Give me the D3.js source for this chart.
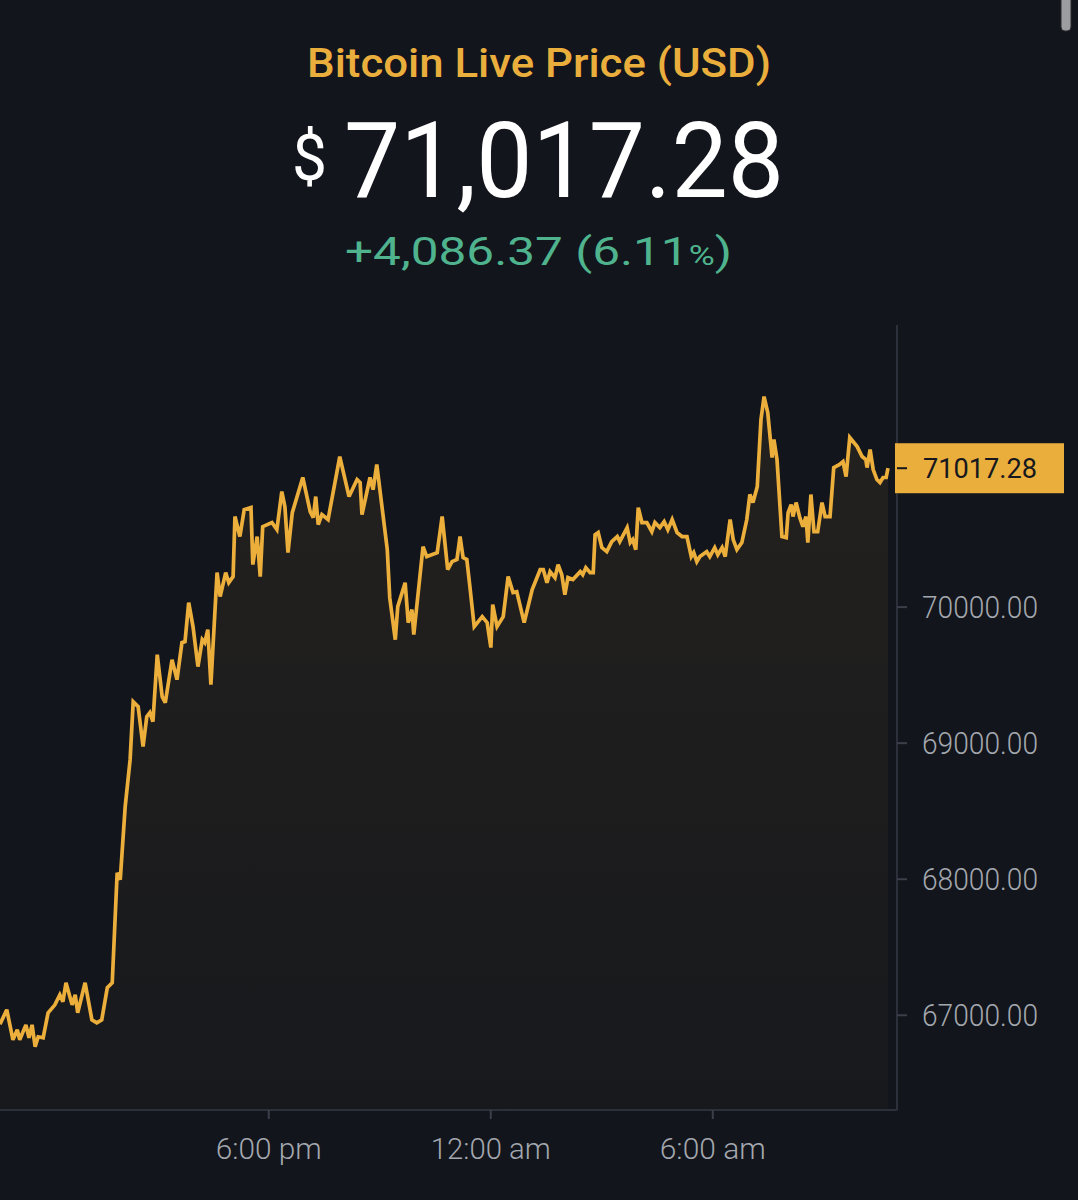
<!DOCTYPE html>
<html><head><meta charset="utf-8">
<script src="https://cdn.jsdelivr.net/npm/d3@7"></script>
<style>
html,body{margin:0;padding:0;background:#12151C;}
svg{display:block;}
</style></head><body>
<svg id="chart" width="1078" height="1200"></svg>
<script>
// ---------------- data ----------------
const titleText = "Bitcoin Live Price (USD)";
const currentPrice = 71017.28;
const changeAbs = 4086.37;
const changePct = 6.11;
const startTime = "2024-03-12T10:45:00";
const minutesFromStart = [0,11,21,28,32,42,47,52,57,62,70,78,89,97,102,107,117,122,126,138,149,157,165,174,182,190,195,203,211,216,224,232,238,243,248,255,263,268,279,287,295,300,306,313,321,328,332,337,342,352,357,366,371,378,381,389,396,407,410,417,422,426,441,449,457,462,467,474,491,503,508,512,516,522,532,551,566,579,584,587,600,605,611,619,628,632,641,645,657,662,668,671,686,692,709,717,726,733,741,746,751,757,762,769,782,790,796,799,806,816,824,832,838,850,863,876,881,887,892,900,905,911,916,921,929,941,945,950,957,962,965,970,976,984,992,1001,1005,1017,1022,1026,1031,1035,1041,1049,1057,1062,1070,1077,1083,1090,1098,1106,1114,1121,1125,1130,1135,1146,1151,1159,1164,1171,1176,1184,1189,1195,1203,1211,1216,1221,1228,1234,1239,1245,1252,1255,1260,1268,1275,1278,1283,1286,1291,1297,1302,1307,1310,1315,1320,1326,1333,1338,1346,1352,1361,1367,1372,1378,1390,1398,1404,1406,1411,1416,1422,1427,1432,1437,1440];
const prices = [66931,67037,66816,66890,66816,66926,66831,66926,66765,66838,66831,67015,67073,67147,67096,67235,67073,67147,67015,67235,66963,66941,66963,67199,67235,68044,67993,68529,68875,69301,69265,68971,69191,69221,69154,69647,69338,69294,69610,69463,69735,69743,70029,69853,69559,69757,69735,69831,69426,70250,70074,70250,70176,70221,70662,70515,70713,70728,70309,70515,70221,70588,70618,70566,70846,70735,70397,70691,70949,70699,70654,70809,70603,70676,70640,71103,70809,70934,70912,70676,70949,70860,71044,70750,70419,70066,69757,70000,70176,69882,69978,69794,70441,70368,70397,70662,70272,70331,70346,70515,70360,70346,70147,69853,69926,69882,69699,70015,69853,69926,70221,70103,70110,69882,70125,70272,70272,70176,70257,70213,70309,70235,70088,70213,70199,70257,70235,70287,70250,70250,70529,70544,70434,70404,70478,70515,70478,70581,70471,70493,70419,70728,70618,70618,70551,70618,70581,70625,70566,70640,70544,70515,70515,70368,70397,70331,70368,70404,70368,70434,70382,70434,70368,70640,70493,70419,70471,70640,70824,70765,70882,71375,71544,71426,71096,71228,71081,70515,70507,70691,70750,70662,70765,70654,70588,70662,70471,70824,70551,70551,70765,70662,70662,71022,71044,71066,70956,71243,71176,71103,71081,71022,71154,71007,70934,70912,70949,70949,71017.28];
const yTickValues = [67000, 68000, 69000, 70000];
const xTickTimes = ["2024-03-12T18:00:00", "2024-03-13T00:00:00", "2024-03-13T06:00:00"];
const xTickLabels = ["6:00 pm", "12:00 am", "6:00 am"];
const yDomain = [66300, 72070];

// ---------------- layout ----------------
const W = 1078, H = 1200;
const plot = {left: 0, right: 888, axisX: 897, top: 325, bottom: 1110};
const FONT = "Roboto, 'Noto Sans', 'DejaVu Sans', sans-serif";
const ORANGE = "#EDAF3B";

const svg = d3.select("#chart");
svg.append("rect").attr("width", W).attr("height", H).attr("fill", "#12151C");

const t0 = new Date(startTime).getTime();
const data = minutesFromStart.map((m, i) => ({t: new Date(t0 + m * 60000), v: prices[i]}));

const x = d3.scaleTime()
  .domain([data[0].t, data[data.length - 1].t])
  .range([plot.left, plot.right]);
const y = d3.scaleLinear().domain(yDomain).range([plot.bottom, plot.top]);

// gradient
const defs = svg.append("defs");
const grad = defs.append("linearGradient").attr("id", "areaGrad")
  .attr("x1", 0).attr("y1", 0).attr("x2", 0).attr("y2", 1);
grad.append("stop").attr("offset", "0%").attr("stop-color", ORANGE).attr("stop-opacity", 0.08);
grad.append("stop").attr("offset", "100%").attr("stop-color", ORANGE).attr("stop-opacity", 0.025);

const area = d3.area().x(d => x(d.t)).y0(plot.bottom).y1(d => y(d.v));
const line = d3.line().x(d => x(d.t)).y(d => y(d.v));

svg.append("path").datum(data).attr("d", area).attr("fill", "url(#areaGrad)");
svg.append("path").datum(data).attr("d", line)
  .attr("fill", "none").attr("stroke", ORANGE).attr("stroke-width", 3.7)
  .attr("stroke-linejoin", "miter").attr("stroke-miterlimit", 3);

// axis lines
svg.append("line").attr("x1", plot.left).attr("x2", plot.axisX)
  .attr("y1", plot.bottom).attr("y2", plot.bottom)
  .attr("stroke", "#2B303A").attr("stroke-width", 2);
svg.append("line").attr("x1", plot.axisX).attr("x2", plot.axisX)
  .attr("y1", plot.top).attr("y2", plot.bottom)
  .attr("stroke", "#2B303A").attr("stroke-width", 2);

// y axis
const yAxis = svg.append("g").attr("transform", `translate(${plot.axisX},0)`)
  .call(d3.axisRight(y).tickValues(yTickValues).tickSize(10).tickPadding(15)
    .tickFormat(d3.format(".2f")));
yAxis.select(".domain").remove();
yAxis.selectAll(".tick line").attr("stroke", "#3A3F49").attr("stroke-width", 2);
yAxis.selectAll(".tick text")
  .attr("fill", "#A3A7AE").attr("font-family", FONT).attr("font-size", 31)
  .attr("font-weight", 300).attr("dy", "0.36em")
  .attr("textLength", 116).attr("lengthAdjust", "spacingAndGlyphs");

// x axis
const xAxis = svg.append("g").attr("transform", `translate(0,${plot.bottom})`)
  .call(d3.axisBottom(x).tickValues(xTickTimes.map(s => new Date(s)))
    .tickSize(9).tickPadding(19).tickFormat((d, i) => xTickLabels[i]));
xAxis.select(".domain").remove();
xAxis.selectAll(".tick line").attr("stroke", "#3A3F49").attr("stroke-width", 2);
xAxis.selectAll(".tick text")
  .attr("fill", "#A3A7AE").attr("font-family", FONT).attr("font-size", 29)
  .attr("font-weight", 300)
  .attr("textLength", (d, i) => i === 1 ? 120 : 106).attr("lengthAdjust", "spacingAndGlyphs");

// current price label
const py = y(currentPrice);
const lbl = svg.append("g");
lbl.append("rect").attr("x", 895).attr("y", py - 25).attr("width", 169).attr("height", 50)
  .attr("fill", "#EAAE3D");
lbl.append("line").attr("x1", 897).attr("x2", 907).attr("y1", py).attr("y2", py)
  .attr("stroke", "#15171C").attr("stroke-width", 2);
lbl.append("text").attr("x", 923).attr("y", py + 10)
  .attr("fill", "#16181D").attr("font-family", FONT).attr("font-size", 28)
  .attr("font-weight", 400)
  .attr("textLength", 114).attr("lengthAdjust", "spacingAndGlyphs")
  .text(currentPrice.toFixed(2));

// header
svg.append("text").attr("x", 307).attr("y", 77)
  .attr("fill", "#EAAE3D").attr("font-family", FONT).attr("font-size", 41)
  .attr("font-weight", 500)
  .attr("textLength", 464).attr("lengthAdjust", "spacingAndGlyphs")
  .text(titleText);

svg.append("text").attr("x", 292).attr("y", 180)
  .attr("fill", "#FFFFFF").attr("font-family", FONT).attr("font-size", 64)
  .attr("font-weight", 400)
  .attr("textLength", 35).attr("lengthAdjust", "spacingAndGlyphs")
  .text("$");

svg.append("text").attr("x", 344).attr("y", 197)
  .attr("fill", "#FFFFFF").attr("font-family", FONT).attr("font-size", 106)
  .attr("font-weight", 400)
  .attr("textLength", 440).attr("lengthAdjust", "spacingAndGlyphs")
  .text(d3.format(",.2f")(currentPrice));

const ch = svg.append("text").attr("x", 345).attr("y", 265)
  .attr("fill", "#4FB38E").attr("font-family", FONT).attr("font-size", 39)
  .attr("font-weight", 400)
  .attr("textLength", 387).attr("lengthAdjust", "spacingAndGlyphs");
ch.append("tspan").text("+" + d3.format(",.2f")(changeAbs) + " (" + changePct.toFixed(2));
ch.append("tspan").attr("font-size", 28).text("%");
ch.append("tspan").text(")");

// scrollbar decoration
svg.append("rect").attr("x", 1061).attr("y", -6).attr("width", 10).attr("height", 37)
  .attr("rx", 4).attr("fill", "#9C9DA0").attr("stroke", "#2a2c30").attr("stroke-width", 1);
</script>
</body></html>
